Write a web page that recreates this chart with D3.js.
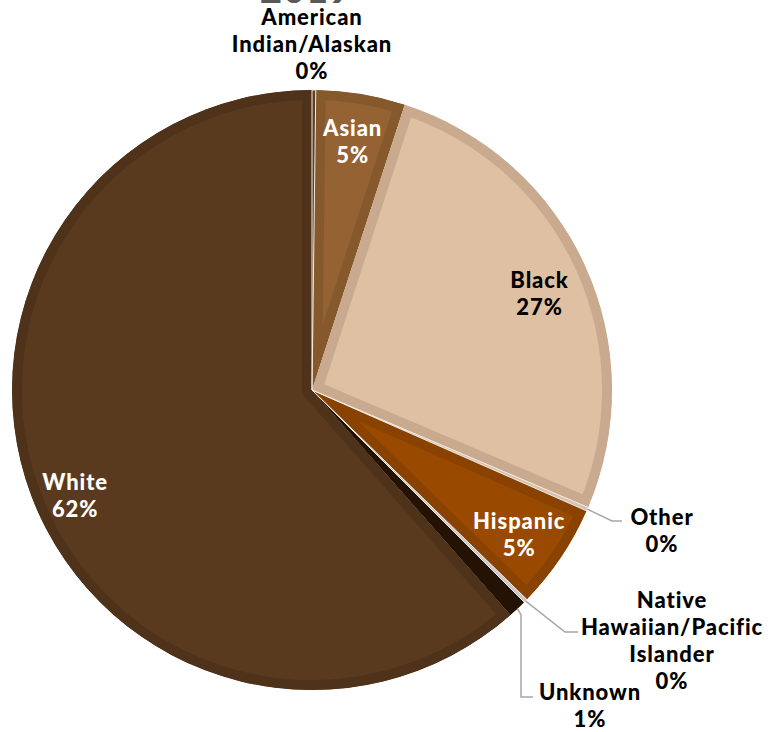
<!DOCTYPE html>
<html>
<head>
<meta charset="utf-8">
<script src="https://cdn.jsdelivr.net/npm/d3@7"></script>
<style>
  html, body { margin: 0; padding: 0; background: #fff; }
  svg { display: block; }
  text { font-family: Lato, "Open Sans", sans-serif; font-weight: 900; letter-spacing: 0.9px; }
</style>
</head>
<body>
<svg id="chart" width="770" height="732"></svg>
<script>
// ---- data ----
const categories = ["American Indian/Alaskan", "Asian", "Black", "Other", "Hispanic",
                    "Native Hawaiian/Pacific Islander", "Unknown", "White"];
const values = [0.2, 4.8, 26.4, 0.2, 5.7, 0.2, 1.0, 61.5];
const percentLabels = ["0%", "5%", "27%", "0%", "5%", "0%", "1%", "62%"];
const labelLines = [["American", "Indian/Alaskan"], ["Asian"], ["Black"], ["Other"], ["Hispanic"],
                    ["Native", "Hawaiian/Pacific", "Islander"], ["Unknown"], ["White"]];
const titleText = "2019";

// ---- styles ----
const fillColors = ["#6e4a28", "#956233", "#dfc0a3", "#e8d6c4", "#9a4a00", "#d9d9d9", "#2f1a07", "#5a3a1e"];
const borderColors = ["#5e3f22", "#86592d", "#c9aa8f", "#d8c2ad", "#8a4200", "#c8c8c8", "#241304", "#4f321a"];
const labelColors = ["#000", "#fff", "#000", "#000", "#fff", "#000", "#000", "#fff"];

const svg = d3.select("#chart");
const cx = 312, cy = 390, R = 300;

// title (cut off at top)
svg.append("text").attr("x", 306).attr("y", 3).attr("text-anchor", "middle")
  .attr("font-size", 38).attr("fill", "#595959").text(titleText);

const pie = d3.pie().sort(null).value(d => d)(values);
const arc = d3.arc().innerRadius(0).outerRadius(R);
const g = svg.append("g").attr("transform", `translate(${cx},${cy})`);

const defs = svg.append("defs");
pie.forEach((p, i) => {
  defs.append("clipPath").attr("id", "clip" + i).append("path").attr("d", arc(p));
});

g.selectAll("path.slice").data(pie).join("path")
  .attr("class", "slice")
  .attr("d", arc)
  .attr("fill", (d, i) => fillColors[i])
  .attr("stroke", (d, i) => borderColors[i])
  .attr("stroke-width", 20)
  .attr("clip-path", (d, i) => `url(#clip${i})`);

// thin light outlines for the 0% slivers
g.selectAll("path.sliver").data(pie.filter((d, i) => values[i] < 0.5)).join("path")
  .attr("class", "sliver")
  .attr("d", arc)
  .attr("fill", "none")
  .attr("stroke", "#f2ebe4")
  .attr("stroke-width", 1);

// inside labels (centroid + small nudges)
const labelArc = d3.arc().innerRadius(250).outerRadius(250);
const inside = [
  { i: 1, dx: 0, dy: -2 },
  { i: 2, dx: 0, dy: 7 },
  { i: 4, dx: 0, dy: 5 },
  { i: 7, dx: -3, dy: 17 }
];
const fs = 22, lh = 27;
inside.forEach(o => {
  const [x0, y0] = labelArc.centroid(pie[o.i]);
  const x = x0 + o.dx, y = y0 + o.dy;
  const lines = labelLines[o.i].concat([percentLabels[o.i]]);
  const t = g.append("text").attr("text-anchor", "middle").attr("font-size", fs)
    .attr("fill", labelColors[o.i]);
  lines.forEach((ln, k) => {
    t.append("tspan").attr("x", x).attr("y", y + (k - (lines.length - 1) / 2) * lh + 8).text(ln);
  });
});

// outside labels with anchor positions (absolute)
const outside = [
  { i: 0, x: 312, y: 17 },
  { i: 3, x: 662, y: 517 },
  { i: 5, x: 672, y: 600 },
  { i: 6, x: 590, y: 692 }
];
outside.forEach(o => {
  const lines = labelLines[o.i].concat([percentLabels[o.i]]);
  const t = svg.append("text").attr("text-anchor", "middle").attr("font-size", fs).attr("fill", "#000");
  lines.forEach((ln, k) => {
    t.append("tspan").attr("x", o.x).attr("y", o.y + k * lh + 8).text(ln);
  });
});

// leader lines: start at slice edge
function edgePoint(i) {
  const p = pie[i];
  const a = (p.startAngle + p.endAngle) / 2;
  return [cx + R * Math.sin(a), cy - R * Math.cos(a)];
}
const leaders = [
  { i: 3, pts: [[612, 521], [622, 521]] },
  { i: 5, pts: [[565, 632], [578, 632]] },
  { i: 6, pts: [[521, 697], [533, 697]] }
];
leaders.forEach(l => {
  const e = edgePoint(l.i);
  let pts = [e].concat(l.pts);
  if (l.i === 6) pts = [e, [521, e[1] + 6], ...l.pts];
  svg.append("path").attr("d", d3.line()(pts))
    .attr("fill", "none").attr("stroke", "#a6a6a6").attr("stroke-width", 1.5);
});
</script>
</body>
</html>
